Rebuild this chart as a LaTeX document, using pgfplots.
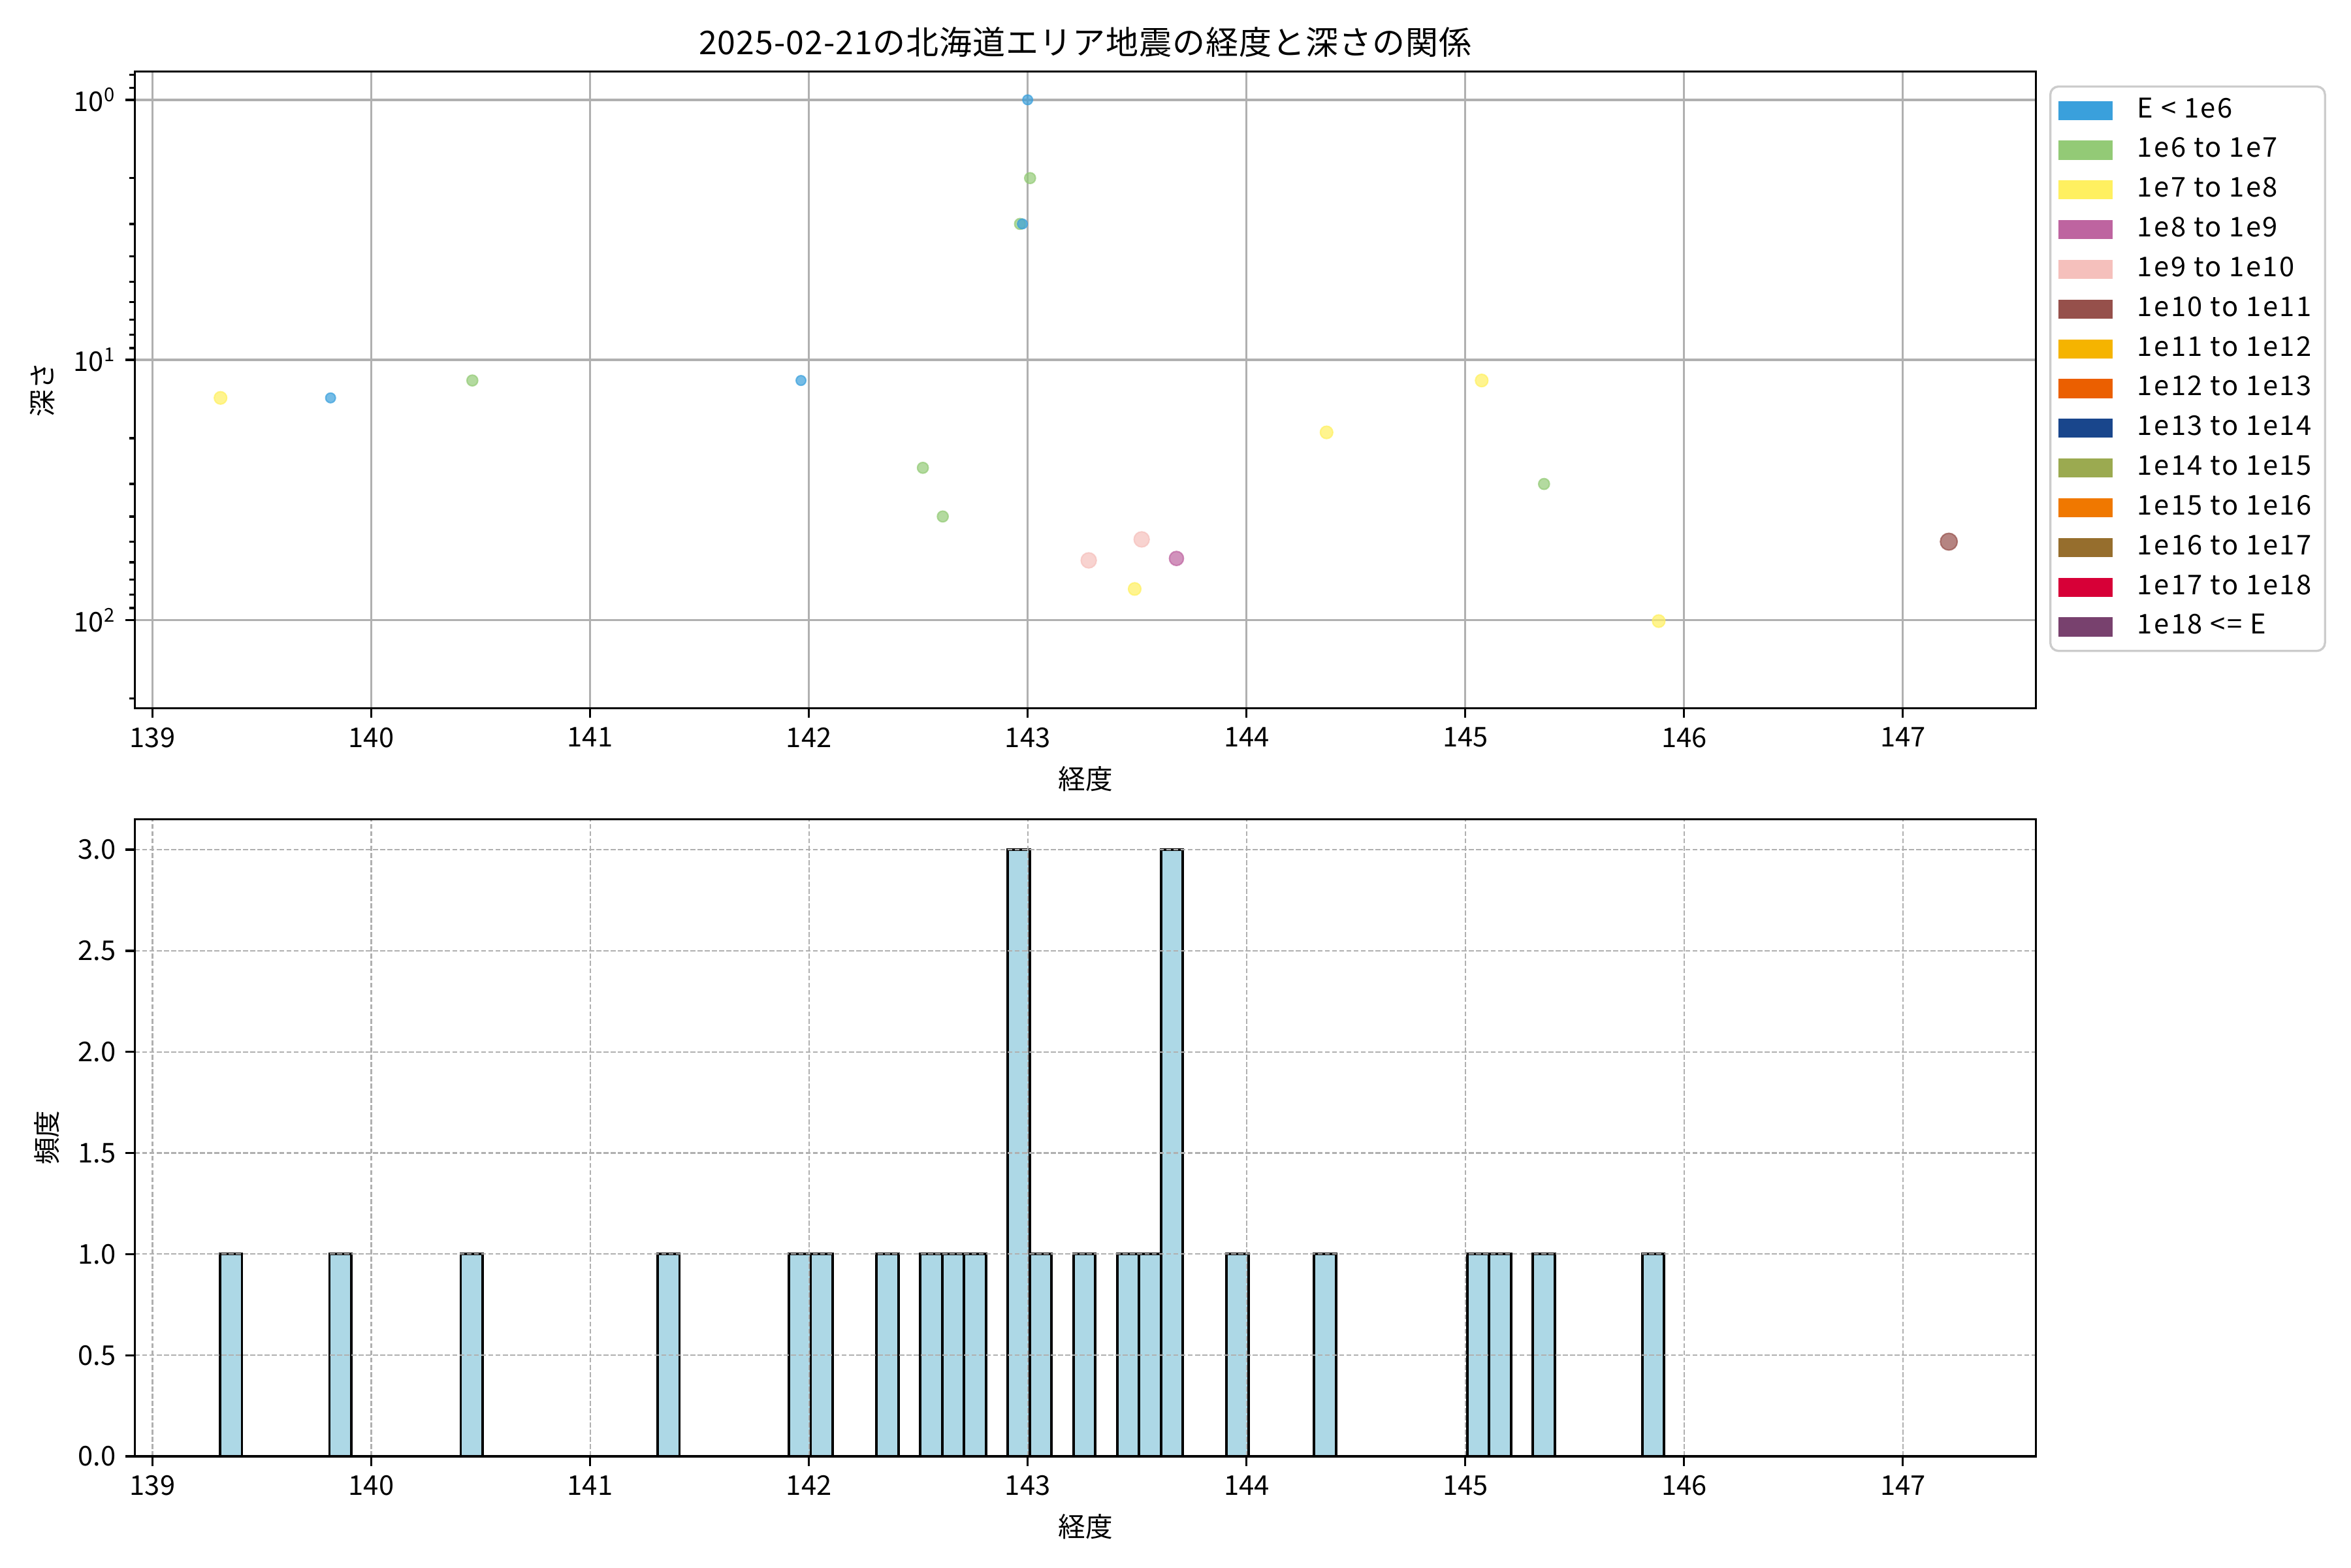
\documentclass[border=0pt]{standalone}
\usepackage{fontspec}
\setmainfont{Noto Sans CJK JP}
\usepackage{pgfplots}
\pgfplotsset{compat=1.18}
\definecolor{c1}{HTML}{3AA0DC}
\definecolor{c2}{HTML}{93CA76}
\definecolor{c3}{HTML}{FFF060}
\definecolor{c4}{HTML}{BE64A0}
\definecolor{c5}{HTML}{F5C0BC}
\definecolor{c6}{HTML}{96504B}
\definecolor{c7}{HTML}{F5B400}
\definecolor{c8}{HTML}{EB5F00}
\definecolor{c9}{HTML}{19468C}
\definecolor{c10}{HTML}{9BAA50}
\definecolor{c11}{HTML}{F07800}
\definecolor{c12}{HTML}{966E2D}
\definecolor{c13}{HTML}{D70037}
\definecolor{c14}{HTML}{78416E}
\definecolor{hbar}{HTML}{ADD8E6}
\definecolor{gridc}{HTML}{B0B0B0}
\pgfplotsset{
  patch/.style={legend image code/.code={\fill[##1,draw=none,sharp corners] (0pt,-3.5pt) rectangle (20pt,3.5pt);}},
  common/.style={
    scale only axis, width=698.6pt, height=234.1pt,
    xmin=138.92, xmax=147.608,
    xtick={139,140,...,147},
    tick pos=left, tick align=outside,
    major tick length=3.5pt, minor tick length=2pt,
    every tick/.style={black, line width=0.8pt},
    axis line style={line width=0.8pt},
    /pgf/number format/assume math mode=true,
    /pgf/number format/1000 sep={},
    tick label style={font=\fontsize{10}{12}\selectfont},
    label style={font=\fontsize{10}{12}\selectfont},
    xlabel=経度,
  }
}
\begin{document}
\begin{tikzpicture}[x=1pt,y=1pt]
\path (0,0) rectangle (864,576);
\begin{axis}[common,
  at={(49.6pt,315.7pt)}, anchor=south west,
  ymode=log, y dir=reverse, ymin=0.777, ymax=218.6,
  ytick={1,10,100},
  yticklabels={10\textsuperscript{0},10\textsuperscript{1},10\textsuperscript{2}},
  minor ytick={0.8,0.9,2,3,4,5,6,7,8,9,20,30,40,50,60,70,80,90,200},
  grid=major, major grid style={gridc, line width=0.8pt},
  ylabel=深さ,
  title={\addfontfeatures{LetterSpace=2}2025-02-21の北海道エリア地震の経度と深さの関係},
  title style={font=\fontsize{12}{14}\selectfont, yshift=-4.3pt},
  legend style={at={(1,1)}, anchor=north west, xshift=4.9pt, yshift=-5.2pt,
    draw=black!20, line width=0.8pt, rounded corners=3pt, fill=white,
    font=\fontsize{10}{12}\selectfont\addfontfeatures{LetterSpace=6}, inner xsep=3pt, inner ysep=1.5pt, row sep=0pt,
    nodes={text height=7.5pt, text depth=2.3pt, inner ysep=2.4pt},
    /tikz/every odd column/.append style={column sep=7pt}},
  legend cell align=left,
]
\addplot[only marks, mark=*, mark size=2.0pt, color=c2, line width=0.5pt, mark options={fill opacity=0.7, draw opacity=0.7}, forget plot]
coordinates {(140.462,12) (142.521,26) (142.612,40) (143.011,2.0) (142.965,3.0) (145.360,30)};
\addplot[only marks, mark=*, mark size=1.8pt, color=c1, line width=0.5pt, mark options={fill opacity=0.7, draw opacity=0.7}, forget plot]
coordinates {(139.814,14) (141.964,12) (143.0,1.0) (142.976,3.0)};
\addplot[only marks, mark=*, mark size=2.3pt, color=c3, line width=0.5pt, mark options={fill opacity=0.7, draw opacity=0.7}, forget plot]
coordinates {(139.311,14) (143.489,76) (144.366,19) (145.075,12) (145.884,101)};
\addplot[only marks, mark=*, mark size=2.6pt, color=c4, line width=0.5pt, mark options={fill opacity=0.7, draw opacity=0.7}, forget plot]
coordinates {(143.680,58)};
\addplot[only marks, mark=*, mark size=2.8pt, color=c5, line width=0.5pt, mark options={fill opacity=0.7, draw opacity=0.7}, forget plot]
coordinates {(143.279,59) (143.521,49)};
\addplot[only marks, mark=*, mark size=3.1pt, color=c6, line width=0.5pt, mark options={fill opacity=0.7, draw opacity=0.7}, forget plot]
coordinates {(147.210,50)};
\addlegendimage{patch,fill=c1}\addlegendentry{E < 1e6}
\addlegendimage{patch,fill=c2}\addlegendentry{1e6 to 1e7}
\addlegendimage{patch,fill=c3}\addlegendentry{1e7 to 1e8}
\addlegendimage{patch,fill=c4}\addlegendentry{1e8 to 1e9}
\addlegendimage{patch,fill=c5}\addlegendentry{1e9 to 1e10}
\addlegendimage{patch,fill=c6}\addlegendentry{1e10 to 1e11}
\addlegendimage{patch,fill=c7}\addlegendentry{1e11 to 1e12}
\addlegendimage{patch,fill=c8}\addlegendentry{1e12 to 1e13}
\addlegendimage{patch,fill=c9}\addlegendentry{1e13 to 1e14}
\addlegendimage{patch,fill=c10}\addlegendentry{1e14 to 1e15}
\addlegendimage{patch,fill=c11}\addlegendentry{1e15 to 1e16}
\addlegendimage{patch,fill=c12}\addlegendentry{1e16 to 1e17}
\addlegendimage{patch,fill=c13}\addlegendentry{1e17 to 1e18}
\addlegendimage{patch,fill=c14}\addlegendentry{1e18 <= E}
\end{axis}
\begin{axis}[common,
  at={(49.6pt,40.8pt)}, anchor=south west,
  ymin=0, ymax=3.15,
  ytick={0,0.5,1,1.5,2,2.5,3},
  yticklabel style={/pgf/number format/.cd, fixed, fixed zerofill, precision=1},
  grid=major, major grid style={gridc, line width=0.5pt, dash pattern=on 1.85pt off 0.8pt},
  axis on top,
  ylabel=頻度,
]
\addplot[ybar interval, fill=hbar, draw=black, line width=0.9pt] table {
x y
139.309 1
139.409 0
139.509 0
139.609 0
139.709 0
139.809 1
139.909 0
140.009 0
140.109 0
140.209 0
140.309 0
140.409 1
140.509 0
140.609 0
140.709 0
140.809 0
140.909 0
141.009 0
141.109 0
141.209 0
141.309 1
141.409 0
141.509 0
141.609 0
141.709 0
141.809 0
141.909 1
142.009 1
142.109 0
142.209 0
142.309 1
142.409 0
142.509 1
142.609 1
142.709 1
142.809 0
142.909 3
143.009 1
143.109 0
143.209 1
143.309 0
143.409 1
143.509 1
143.609 3
143.709 0
143.809 0
143.909 1
144.009 0
144.109 0
144.209 0
144.309 1
144.409 0
144.509 0
144.609 0
144.709 0
144.809 0
144.909 0
145.009 1
145.109 1
145.209 0
145.309 1
145.409 0
145.509 0
145.609 0
145.709 0
145.809 1
145.909 0
146.009 0
146.109 0
146.209 0
146.309 0
146.409 0
146.509 0
146.609 0
146.709 0
146.809 0
146.909 0
147.009 0
147.109 0
147.209 0
};
\end{axis}
\end{tikzpicture}
\end{document}
